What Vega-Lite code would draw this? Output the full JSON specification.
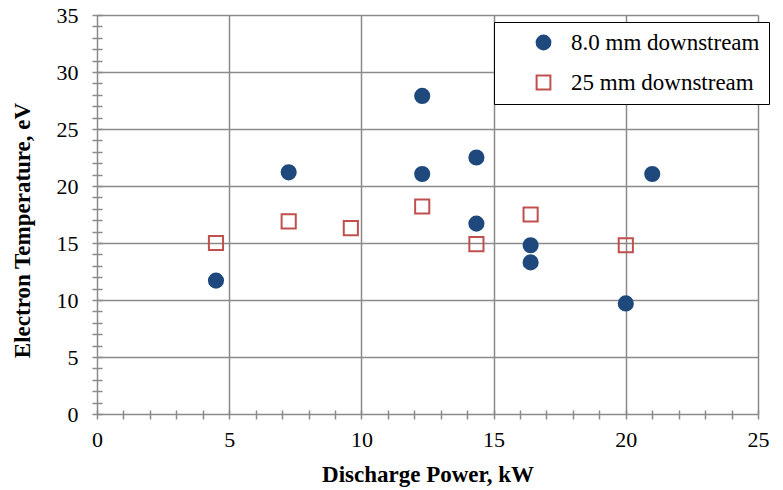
{
  "$schema": "https://vega.github.io/schema/vega-lite/v6.json",
  "width": 661,
  "height": 399,
  "autosize": {"type": "none"},
  "padding": {"left": 97, "top": 15, "right": 25, "bottom": 76},
  "background": "white",
  "config": {
    "view": {"stroke": null},
    "font": "Liberation Serif"
  },
  "data": {
    "values": [
      {"power": 4.5, "temp": 11.7, "series": "8.0 mm downstream"},
      {"power": 7.25, "temp": 21.2, "series": "8.0 mm downstream"},
      {"power": 12.3, "temp": 27.9, "series": "8.0 mm downstream"},
      {"power": 12.3, "temp": 21.05, "series": "8.0 mm downstream"},
      {"power": 14.35, "temp": 22.5, "series": "8.0 mm downstream"},
      {"power": 14.35, "temp": 16.7, "series": "8.0 mm downstream"},
      {"power": 16.4, "temp": 14.8, "series": "8.0 mm downstream"},
      {"power": 16.4, "temp": 13.3, "series": "8.0 mm downstream"},
      {"power": 20.0, "temp": 9.7, "series": "8.0 mm downstream"},
      {"power": 21.0, "temp": 21.05, "series": "8.0 mm downstream"},
      {"power": 4.5, "temp": 15.0, "series": "25 mm downstream"},
      {"power": 7.25, "temp": 16.9, "series": "25 mm downstream"},
      {"power": 9.6, "temp": 16.3, "series": "25 mm downstream"},
      {"power": 12.3, "temp": 18.2, "series": "25 mm downstream"},
      {"power": 14.35, "temp": 14.9, "series": "25 mm downstream"},
      {"power": 16.4, "temp": 17.5, "series": "25 mm downstream"},
      {"power": 20.0, "temp": 14.8, "series": "25 mm downstream"}
    ]
  },
  "mark": {"type": "point", "strokeWidth": 2, "opacity": 1, "size": 200},
  "encoding": {
    "x": {
      "field": "power", "type": "quantitative",
      "scale": {"domain": [0, 25], "nice": false, "zero": false},
      "axis": {
        "title": "Discharge Power, kW",
        "titleFont": "Liberation Serif", "titleFontSize": 23, "titleFontWeight": "bold", "titleColor": "black",
        "titlePadding": 13,
        "values": [0,1,2,3,4,5,6,7,8,9,10,11,12,13,14,15,16,17,18,19,20,21,22,23,24,25],
        "labelExpr": "datum.value % 5 == 0 ? datum.label : ''",
        "labelFont": "Liberation Serif", "labelFontSize": 22, "labelColor": "black",
        "labelPadding": 10, "labelFlush": false, "labelOverlap": false,
        "domain": false,
        "offset": -4,
        "tickSize": 9, "tickColor": "#8a8a8a", "tickWidth": 1.5,
        "grid": true, "gridColor": "#8a8a8a", "gridWidth": 1.5,
        "gridOpacity": {"condition": {"test": "datum.value % 5 == 0", "value": 1}, "value": 0}
      }
    },
    "y": {
      "field": "temp", "type": "quantitative",
      "scale": {"domain": [0, 35], "nice": false, "zero": false},
      "axis": {
        "title": "Electron Temperature, eV",
        "titleFont": "Liberation Serif", "titleFontSize": 23, "titleFontWeight": "bold", "titleColor": "black",
        "titlePadding": 22, "titleY": 215,
        "values": [0,1,2,3,4,5,6,7,8,9,10,11,12,13,14,15,16,17,18,19,20,21,22,23,24,25,26,27,28,29,30,31,32,33,34,35],
        "labelExpr": "datum.value % 5 == 0 ? datum.label : ''",
        "labelFont": "Liberation Serif", "labelFontSize": 22, "labelColor": "black",
        "labelPadding": 14, "labelFlush": false, "labelOverlap": false,
        "domain": false,
        "offset": -5,
        "tickSize": 10, "tickColor": "#8a8a8a", "tickWidth": 1.5,
        "grid": true, "gridColor": "#8a8a8a", "gridWidth": 1.5,
        "gridOpacity": {"condition": {"test": "datum.value % 5 == 0", "value": 1}, "value": 0}
      }
    },
    "shape": {
      "field": "series", "type": "nominal",
      "scale": {"domain": ["8.0 mm downstream", "25 mm downstream"], "range": ["circle", "square"]},
      "legend": {
        "title": null,
        "orient": "none", "legendX": 397, "legendY": 7,
        "strokeColor": "black", "fillColor": "white",
        "padding": 9, "symbolOffset": 29, "labelLimit": 400,
        "labelFont": "Liberation Serif", "labelFontSize": 23, "labelColor": "black",
        "labelOffset": 16, "rowPadding": 16, "symbolSize": 190, "symbolStrokeWidth": 2
      }
    },
    "fill": {
      "field": "series", "type": "nominal",
      "scale": {"domain": ["8.0 mm downstream", "25 mm downstream"], "range": ["#1f497d", "transparent"]},
      "legend": null
    },
    "stroke": {
      "field": "series", "type": "nominal",
      "scale": {"domain": ["8.0 mm downstream", "25 mm downstream"], "range": ["#1f497d", "#c0504d"]},
      "legend": null
    }
  }
}
